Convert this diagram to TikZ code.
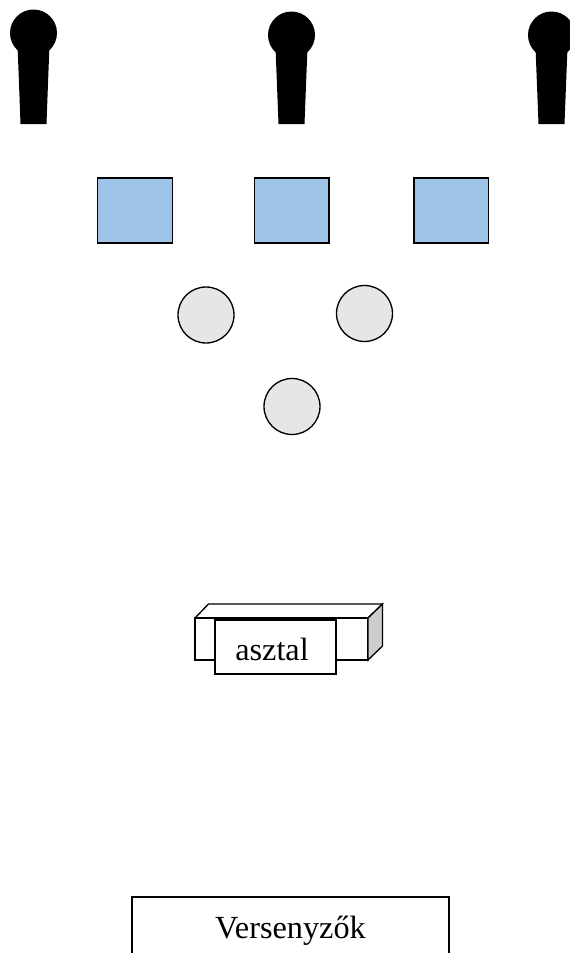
\documentclass[tikz,border=0pt]{standalone}
\usepackage{fontspec}
\setmainfont{Liberation Serif}
\usetikzlibrary{positioning}
\definecolor{blockblue}{HTML}{9DC3E6}
\definecolor{ballgrey}{HTML}{E7E6E6}
\definecolor{sidegrey}{HTML}{CDCDCD}
\tikzstyle{microhead} = [circle, minimum size=35.25pt, inner sep=0pt, outer sep=0pt, fill=black]
\tikzstyle{blueblock} = [rectangle, minimum width=55.9pt, minimum height=48.75pt, inner sep=0pt,
outer sep=0pt, draw=black, line width=1pt, fill=blockblue]
\tikzstyle{ballblock} = [circle, minimum size=42pt, inner sep=0pt, outer sep=0pt, draw=black,
line width=1pt, fill=ballgrey]
\tikzstyle{labelblock} = [rectangle, inner xsep=0pt, inner ysep=6pt, outer sep=0pt, text height=24pt,
text depth=4.5pt, text centered, draw=black, line width=1pt, fill=white,
font=\fontsize{24.2}{28}\selectfont]
\tikzstyle{tableline} = [draw=black, line width=1pt, line join=miter]

\begin{document}
\begin{tikzpicture}[x=0.75pt,y=-0.75pt,node distance=117.5pt]
  \clip (0,0) rectangle (570,953);
  % microphones along the top
  \foreach \name/\cx/\cy in {micro1/33.5/33, micro2/291.5/35, micro3/551.5/35} {
    \node (\name) [microhead] at (\cx,\cy) {};
    \fill [black] (\cx-16,\cy+12) -- (\cx+16,\cy+12) .. controls (\cx+14.5,\cy+50) .. (\cx+13,124)
      -- (\cx-13,124) .. controls (\cx-14.5,\cy+50) .. (\cx-16,\cy+12) -- cycle;
  }
  \node (block1) [blueblock] at (135,210.5) {};
  \node (block2) [blueblock, right of=block1] {};
  \node (block3) [blueblock, right of=block2, xshift=2.25pt] {};
  \node (ball1) [ballblock] at (206,315) {};
  \node (ball2) [ballblock] at (364.5,313.5) {};
  \node (ball3) [ballblock] at (292,406.5) {};
  % the table, front then top and side
  \node (tablefront) [rectangle, minimum width=129.75pt, minimum height=31.5pt, inner sep=0pt,
  outer sep=0pt, tableline] at (281.5,639) {};
  \coordinate (backleft) at (208.5,604);
  \coordinate (backright) at (382.5,604);
  \coordinate (backlow) at (382.5,646);
  \draw [tableline] (tablefront.north west) -- (backleft) -- (backright) -- (tablefront.north east);
  \draw [tableline, fill=sidegrey] (tablefront.north east) -- (backright) -- (backlow)
  -- (tablefront.south east) -- cycle;
  \node (asztal) [labelblock, minimum width=90.75pt] at (275.5,647) {asztal\rule{5.2pt}{0pt}};
  \node (versenyzok) [labelblock, minimum width=237.75pt, anchor=north, inner ysep=6.75pt,
  text depth=30pt] at (290.5,897) {Versenyzők};
\end{tikzpicture}
\end{document}
